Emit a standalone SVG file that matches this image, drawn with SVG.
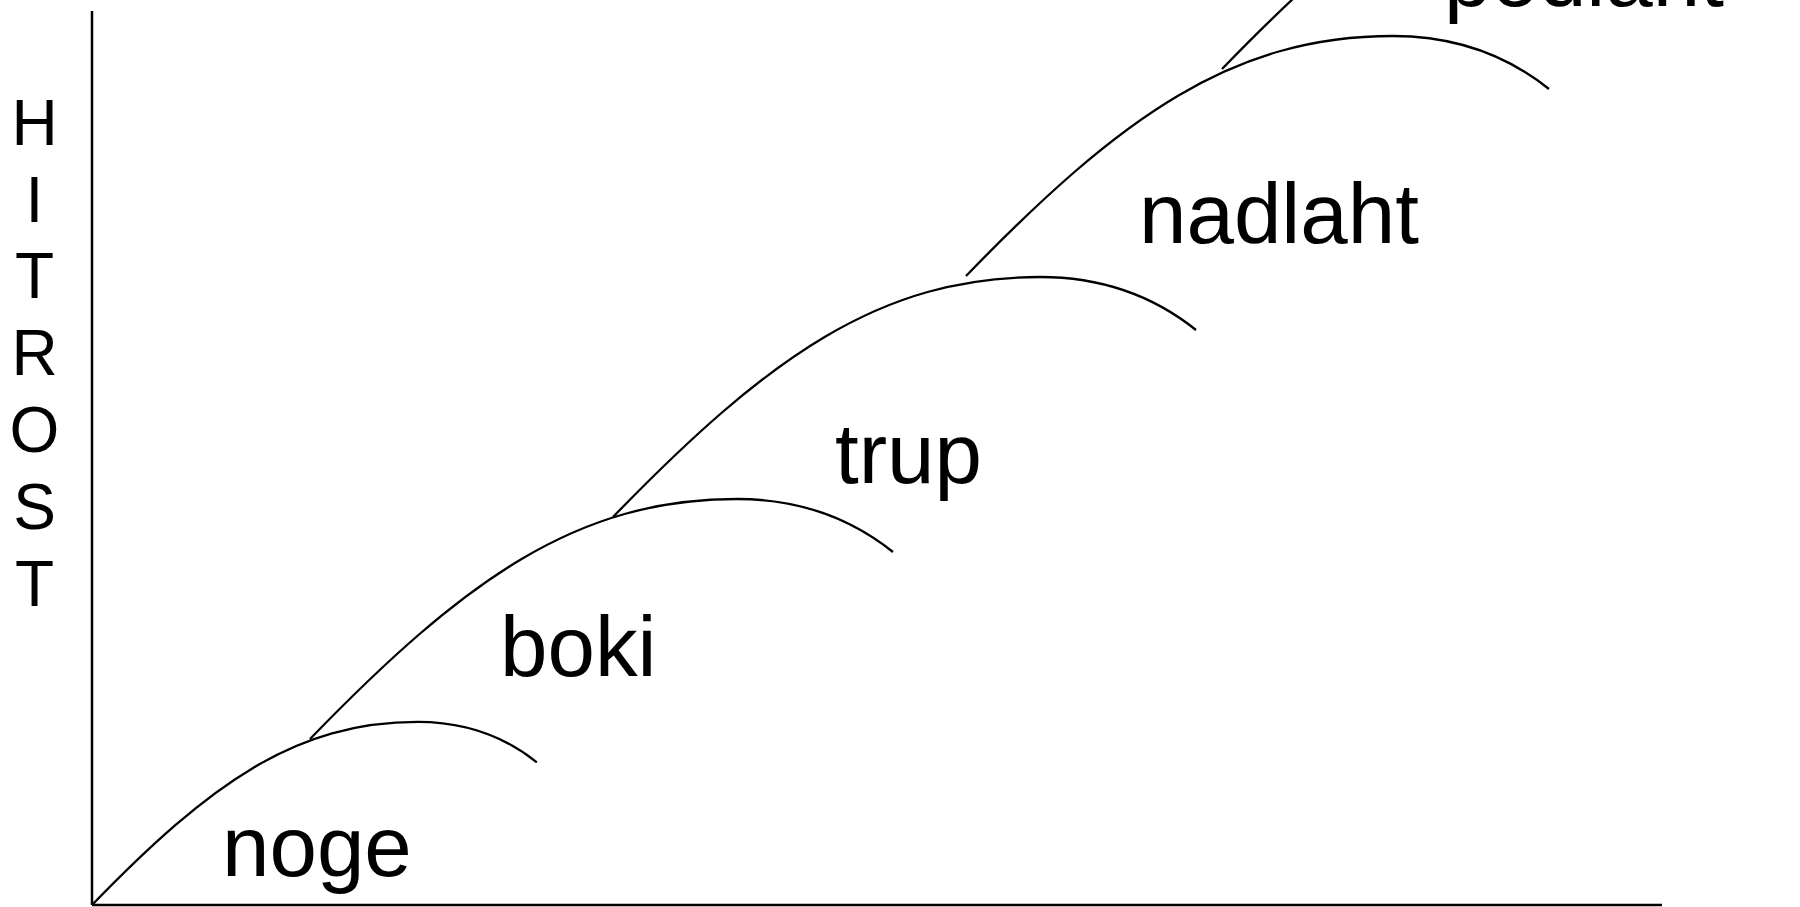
<svg xmlns="http://www.w3.org/2000/svg" width="1800" height="907" viewBox="0 0 1800 907">
  <style>
    .axis { stroke: #000; stroke-width: 2.5; fill: none; }
    .arc { stroke: #000; stroke-width: 2.3; fill: none; stroke-linecap: butt; }
    .vtitle { font-family: "Liberation Sans", Arial, sans-serif; font-size: 64px; fill: #000; text-anchor: middle; }
    .label { font-family: "Liberation Sans", Arial, sans-serif; font-size: 85.33px; fill: #000; }
  </style>
  <defs>
    <!-- one growth arc, drawn from its left foot: steep rise, flat crest, short drop -->
    <path id="arcShape" d="M0,0 C155,-160 267,-240 427,-240 C487,-240 538,-223 583,-187"/>
  </defs>
  <rect width="1800" height="907" fill="#fff"/>

  <!-- axes -->
  <g id="axes">
    <line class="axis" x1="92" y1="11" x2="92" y2="905"/>
    <line class="axis" x1="92" y1="905" x2="1662" y2="905"/>
  </g>

  <!-- vertical axis title, one letter per line -->
  <g id="axis-title" class="vtitle">
    <text x="34.5" y="145">H</text>
    <text x="34.5" y="222">I</text>
    <text x="34.5" y="298">T</text>
    <text x="34.5" y="375">R</text>
    <text x="34.5" y="452">O</text>
    <text x="34.5" y="529">S</text>
    <text x="34.5" y="606">T</text>
  </g>

  <!-- stacked arcs -->
  <g id="arcs">
    <use href="#arcShape" class="arc" transform="translate(92,905) scale(0.763)" style="stroke-width:3"/>
    <use href="#arcShape" class="arc" transform="translate(310,739)"/>
    <use href="#arcShape" class="arc" transform="translate(613,517)"/>
    <use href="#arcShape" class="arc" transform="translate(966,276)"/>
    <use href="#arcShape" class="arc" transform="translate(1222,69)"/>
  </g>

  <!-- stage labels -->
  <g id="label-noge"><text class="label" x="222" y="876">noge</text></g>
  <g id="label-boki"><text class="label" x="500" y="676">boki</text></g>
  <g id="label-trup"><text class="label" x="835" y="483">trup</text></g>
  <g id="label-nadlaht"><text class="label" x="1139" y="243">nadlaht</text></g>
  <g id="label-podlaht"><text class="label" x="1444" y="6">podlaht</text></g>
</svg>
